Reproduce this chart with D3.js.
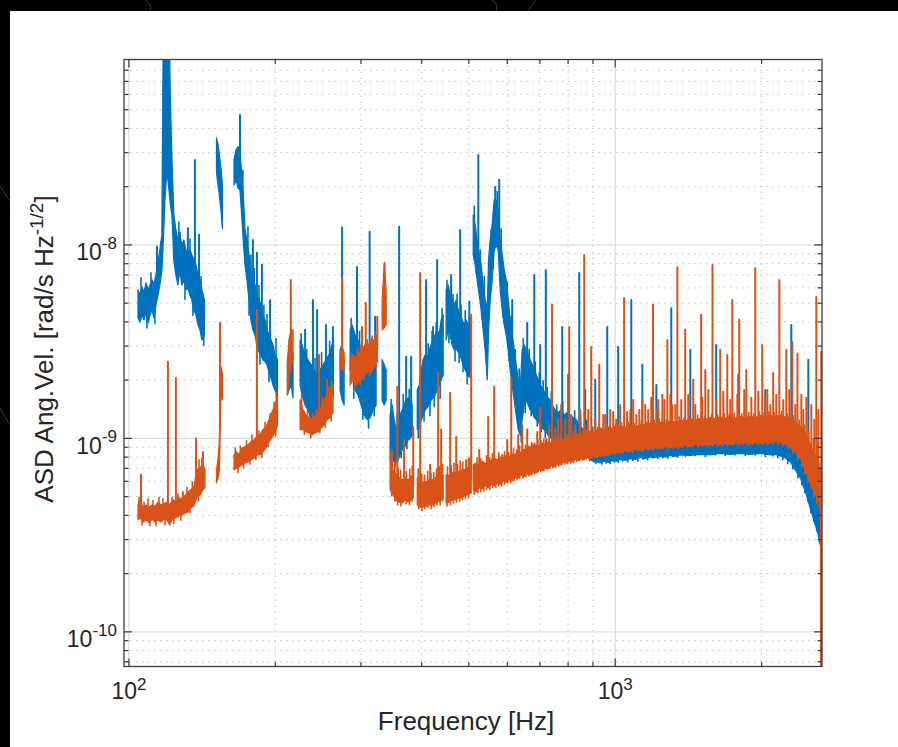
<!DOCTYPE html>
<html>
<head>
<meta charset="utf-8">
<script src="https://cdn.jsdelivr.net/npm/d3@7"></script>
<style>
  html, body { margin: 0; padding: 0; background: #000; }
  svg { display: block; }
</style>
</head>
<body>
<svg id="chart" width="898" height="747"></svg>
<script>
// Angular-velocity ASD of two channels, 100 Hz – 2.7 kHz.
// Band rows: [frequency (Hz), lower envelope, upper envelope], values in nrad/s/√Hz.
// null marks a gap between measurement segments.
const UNIT = 1e-9;

const xTickExp = [2, 3];
const yTickExp = [-10, -9, -8];
const xLimits = [97.7, 2662];
const yLimits = [6.62e-11, 9.09e-8];

const blueBand = [
  [104.4,4.20,5.85],[105.4,3.99,5.51],[106.4,4.35,6.06],[107.4,4.10,5.65],[108.4,4.50,6.37],[109.5,3.95,5.85],
  [110.5,4.35,6.21],[111.6,4.61,6.59],[112.6,4.20,6.28],[113.7,4.90,7.00],[114.7,5.51,8.15],[115.8,6.21,9.42],
  [116.9,7.43,11.26],[117.7,10.6,150],[118.6,17.1,150],[119.7,24.4,150],[120.9,19.2,150],[121.7,16.1,56.1],
  [122.6,14.3,27.5],[123.7,8.36,14.3],[124.9,7.0,11.95],[126.1,6.21,10.6],[127.3,7.43,11.26],[128.5,6.21,10.0],
  [129.7,6.59,10.6],[131.0,5.85,9.42],[132.2,6.0,8.88],[133.5,5.51,9.42],[134.7,5.20,8.88],[136.0,4.61,8.36],
  [137.4,4.35,7.88],[138.7,3.86,7.0],[140.0,3.64,6.59],[141.3,3.23,5.85],[143.0,3.43,5.20],
  null,
  [151.4,23.7,35.7],[152.5,20.4,32.9],[153.5,18.1,29.2],[154.6,15.2,24.9],[155.7,12.2,20.4],
  null,
  [164.5,20.4,27.5],[166.1,21.7,31.0],[167.6,19.7,32.2],[169.2,19.2,31.0],[170.8,13.5,21.7],[172.1,10.0,17.1],
  [173.3,7.88,11.95],[174.9,6.59,10.6],[176.6,5.20,8.88],[178.2,4.10,7.43],[179.9,3.64,6.59],[181.7,3.43,6.21],
  [183.3,3.04,5.51],[185.1,2.80,5.20],[186.9,2.70,4.90],[188.6,2.55,4.35],[190.5,2.49,4.10],[192.3,2.40,3.64],
  [194.1,2.21,3.43],[196.0,2.05,3.23],[197.8,1.89,3.04],[199.7,1.78,2.70],[202.1,1.64,2.55],
  null,
  [211.8,1.68,2.55],[213.3,1.78,2.87],[215.7,1.89,3.04],[217.5,1.62,2.70],
  null,
  [224.9,1.89,3.23],[227.0,1.68,3.04],[230.3,1.49,2.70],[233.5,1.40,2.55],[237.0,1.28,2.40],[240.3,1.25,2.26],
  [243.8,1.20,2.13],[247.2,1.25,2.26],[250.8,1.32,2.40],[254.2,1.40,2.55],[257.9,1.49,2.70],[261.6,1.58,3.04],
  [263.4,1.68,3.23],
  null,
  [271.8,1.78,2.87],[274.4,1.58,3.04],[277.0,1.49,2.55],
  null,
  [285.0,2.26,3.64],[287.6,2.13,3.86],[291.8,1.78,3.43],[296.0,1.68,3.23],[300.2,1.49,2.87],[304.6,1.32,2.55],
  [309.0,1.25,2.40],[313.3,1.28,2.55],[317.8,1.40,2.87],[322.3,1.49,2.92],
  null,
  [331.7,1.58,2.55],[334.9,1.49,2.40],[338.0,1.58,2.26],
  null,
  [344.4,0.774,1.32],[347.7,0.822,1.49],[351.0,0.757,1.25],[354.4,0.746,1.11],[357.8,0.774,1.17],[361.2,0.822,1.32],
  [364.6,0.872,1.40],[368.0,0.893,1.49],[371.6,0.926,1.58],[375.1,0.982,1.62],[378.7,1.0,1.54],[382.4,1.04,1.49],
  null,
  [391.7,1.11,1.78],[395.5,1.13,1.89],[399.3,1.25,2.26],[402.7,1.32,2.55],[406.6,1.40,2.70],[410.5,1.44,2.55],
  [414.2,1.49,2.87],[418.2,1.58,3.04],[422.1,1.62,3.23],[426.3,1.68,3.43],[430.3,1.78,3.64],[434.5,1.89,3.43],
  [438.6,2.01,4.10],[442.8,2.13,4.35],
  null,
  [449.1,3.23,5.85],[453.4,3.64,6.21],[457.7,3.43,5.51],[462.0,3.04,5.20],[466.5,2.87,4.90],[471.0,2.92,5.20],
  [475.4,2.80,4.61],[479.9,2.70,4.35],[484.5,2.49,4.10],[489.1,2.32,3.86],[493.7,2.21,4.10],[498.5,2.10,3.86],
  [505.6,2.05,3.64],
  null,
  [510.6,8.88,14.3],[515.3,7.88,12.7],[520.1,6.59,10.6],[525.2,5.51,8.88],[530.0,4.61,7.88],[535.1,3.64,6.21],
  [540.3,2.87,5.20],[545.6,2.01,4.61],[549.0,3.64,8.36],[553.2,5.20,10.6],[558.4,6.59,12.7],[563.8,9.42,17.1],
  [569.2,10.0,17.1],[574.7,9.42,15.2],[580.1,5.85,10.6],[585.6,4.61,8.88],[591.2,3.86,7.43],[596.8,3.43,6.59],
  [602.6,2.87,5.20],[608.2,2.26,4.10],[614.0,1.89,3.43],[619.9,1.58,2.87],[625.8,1.32,2.40],[631.7,1.11,2.01],
  [637.7,1.04,1.78],[643.8,1.25,2.87],[650.0,1.49,3.04],[656.2,1.58,2.87],[662.4,1.49,2.70],[668.6,1.40,2.55],
  [675.0,1.37,2.40],[681.6,1.28,2.26],[688.0,1.25,2.13],[694.6,1.22,2.01],[701.1,1.17,1.89],[707.8,1.13,1.82],
  [714.6,1.11,1.74],[721.4,1.08,1.68],[728.2,1.04,1.62],[735.1,1.02,1.58],[742.0,0.982,1.49],[752.7,0.982,1.40],
  [763.4,0.959,1.36],[774.2,0.982,1.40],[785.3,0.926,1.32],[796.5,0.959,1.36],[808.1,0.926,1.32],[819.5,0.893,1.28],
  [831.3,0.893,1.25],[843.3,0.872,1.17],[855.4,0.851,1.13],[867.6,0.822,1.08],[880.1,0.792,1.0],[892.6,0.774,0.959],
  [905.4,0.757,0.926],[918.4,0.757,0.903],[931.5,0.746,0.903],[949.4,0.762,0.898],[967.5,0.752,0.914],[986.0,0.770,0.909],
  [1005,0.762,0.926],[1024,0.778,0.920],[1048,0.770,0.931],[1074,0.787,0.926],[1100,0.778,0.943],[1126,0.797,0.937],
  [1153,0.787,0.953],[1180,0.803,0.943],[1209,0.797,0.959],[1238,0.808,0.953],[1268,0.803,0.964],[1298,0.817,0.959],
  [1329,0.808,0.970],[1361,0.822,0.964],[1427,0.817,0.982],[1496,0.827,0.976],[1569,0.822,0.988],[1644,0.836,0.982],
  [1724,0.827,0.994],[1808,0.836,0.988],[1896,0.827,1.0],[1988,0.836,0.994],[2084,0.822,1.01],[2134,0.827,1.0],
  [2185,0.812,1.0],[2238,0.792,0.982],[2291,0.757,0.959],[2346,0.687,0.893],[2403,0.625,0.822],[2437,0.568,0.757],
  [2472,0.511,0.687],[2507,0.453,0.625],[2543,0.402,0.562],[2579,0.357,0.511],[2616,0.317,0.470],[2641,0.282,0.437],
  [2662,0.25,0.40]
];

// narrow lines rising (or dropping) out of the blue band: [frequency (Hz), extreme]
const blueSpikes = [
  [114.2,9.8],[127.3,11.6],[132.2,12.2],[136.7,27.5],[139.4,11.3],
  [169.2,47.0],[179.9,10.6],[183.3,9.1],[187.7,7.9],[195.1,5.2],
  [230.3,3.64],[239.0,5.2],[243.8,4.61],[254.2,3.86],[262.7,3.77],
  [274.4,12.3],[294.5,7.7],[312.6,11.7],[320.8,4.25],
  [349.4,1.25],[359.5,12.4],[371.6,2.64],[380.5,2.64],
  [408.4,6.59],[422.1,3.77],[430.3,8.36],
  [459.8,7.0],[479.9,11.95],[501.1,5.08],
  [523.0,29.2],[566.5,19.9],[577.4,21.7],[614.0,5.2],[659.3,3.95],[681.6,7.0],[701.1,3.04],[720.0,7.43],
  [778.0,3.77],[800.5,2.13],[843.3,7.17],[867.6,1.78],[909.7,2.01],[963.0,3.77],[1014,2.97],[1079,5.2],
  [1137,2.40],[1215,1.89],[1304,4.70],[1427,2.87],[1613,3.04],[1791,2.13],[2035,1.78],[2302,3.86],[2495,2.55],
  [2652,0.081]
];

// short excursions along the blue band edges
const blueFringe = [
  [105.9,6.8],[108.9,3.7],[111.0,7.2],[113.1,3.9],[116.4,10.5],[126.7,13.2],[130.4,5.2],[133.5,10.8],
  [135.4,4.3],[140.7,6.9],[142.5,3.0],
  [171.5,24.5],[175.7,12.5],[176.6,4.3],[178.2,8.9],[181.0,7.6],[185.1,6.2],[186.0,2.4],[189.5,4.9],
  [192.3,4.4],[194.1,1.95],[197.0,2.75],[200.7,3.3],
  [226.0,3.5],[232.0,2.9],[235.8,1.15],[241.4,2.6],[246.5,1.12],[249.0,2.8],[252.5,1.2],[258.7,3.2],[260.0,1.35],
  [286.5,4.2],[290.0,1.6],[298.0,3.6],[302.7,1.25],[306.5,3.0],[311.0,1.12],[316.0,3.3],[319.5,1.3],
  [346.0,1.6],[352.5,0.70],[356.0,1.35],[363.0,0.79],[366.5,1.7],[373.0,0.88],[377.0,1.8],
  [393.5,1.0],[397.5,2.1],[404.5,1.22],[412.5,3.1],[416.0,1.3],[420.0,3.6],[424.5,1.45],[428.5,4.0],
  [436.5,1.6],[440.5,4.7],
  [451.0,6.6],[455.0,3.1],[464.0,5.6],[468.5,2.5],[473.0,5.6],[477.5,2.45],[482.0,4.9],[486.5,2.2],
  [491.5,4.6],[496.0,1.9],[503.0,4.2],
  [513.0,16.0],[518.0,7.1],[528.0,9.5],[533.0,4.1],[538.0,6.9],[543.0,2.5],[555.8,12.0],[561.0,7.5],
  [571.9,19.0],[583.0,12.2],[588.4,4.2],[599.6,6.5],[605.3,2.5],[611.1,4.3],[617.0,1.75],[622.8,2.9],
  [628.7,1.25],[634.7,2.3],[640.8,0.95],[647.0,3.3],[653.1,1.35],[665.5,2.9],[671.8,1.3],[685.0,2.5],
  [691.3,1.15],[698.0,2.2],[704.4,1.08],[711.0,2.0],[717.9,1.0],[724.8,1.85],[738.6,1.75],[745.5,0.95],
  [758.0,1.5],[769.0,0.92],[780.0,1.55],[791.0,0.89],[802.0,1.5],[813.8,0.86],[825.4,1.4],[837.3,0.85],
  [849.3,1.3],[861.5,0.80],[873.8,1.25],[886.3,0.76],[898.9,1.15],[911.8,0.735],[924.8,1.05],
  [940,0.73],[958,0.74],[976,0.735],[995,0.75],[1015,0.745],[1036,0.76],[1061,0.75],[1087,0.765],
  [1113,0.758],[1140,0.775],[1166,0.77],[1195,0.785],[1223,0.78],[1253,0.79],[1283,0.785],[1314,0.80],
  [1345,0.795],[1394,0.80],[1461,0.81],[1532,0.80],[1606,0.815],[1684,0.81],[1766,0.815],[1851,0.81],
  [1941,0.815],[2035,0.80],[2109,0.805],[2160,0.79],[2211,0.77],[2264,0.735],[2318,0.69],[2375,0.62],
  [2420,0.57],[2454,0.52],[2490,0.47],[2525,0.41],[2561,0.37],[2597,0.33],[2628,0.29]
];

const orangeBand = [
  [104.4,0.379,0.453],[105.4,0.388,0.481],[106.9,0.370,0.440],[108.4,0.379,0.453],[110.0,0.366,0.440],[111.6,0.383,0.453],
  [113.1,0.370,0.447],[114.7,0.379,0.467],[116.4,0.370,0.453],[118.0,0.383,0.460],[119.7,0.379,0.467],[121.4,0.357,0.453],
  [123.1,0.388,0.481],[124.9,0.388,0.472],[126.7,0.397,0.493],[128.5,0.402,0.487],[130.4,0.412,0.505],[132.2,0.416,0.529],
  [134.1,0.437,0.542],[136.0,0.447,0.560],[138.0,0.499,0.687],[140.0,0.511,0.705],[142.0,0.542,0.730],[143.3,0.555,0.687],
  null,
  [151.4,0.589,0.687],[152.5,0.625,0.785],[153.5,0.687,0.982],[154.6,1.78,2.35],[155.7,1.58,2.13],
  null,
  [164.5,0.687,0.822],[166.5,0.703,0.851],[168.4,0.713,0.822],[170.9,0.730,0.893],[173.3,0.746,0.903],[175.7,0.757,0.926],
  [178.2,0.774,0.959],[180.8,0.792,0.982],[183.3,0.822,1.02],[186.0,0.822,1.04],[188.6,0.851,1.11],[191.4,0.893,1.15],
  [194.1,0.959,1.25],[196.9,1.01,1.37],[199.7,1.08,1.49],[202.1,1.17,1.62],
  null,
  [211.8,1.68,2.40],[213.3,2.01,3.23],[215.7,2.40,3.64],[217.5,2.55,3.64],
  null,
  [224.9,1.11,1.58],[228.1,1.11,1.40],[231.4,1.08,1.32],[234.7,1.07,1.28],[238.1,1.04,1.25],[241.4,1.07,1.29],
  [244.9,1.08,1.37],[248.4,1.13,1.44],[251.9,1.17,1.58],[255.5,1.25,1.68],[259.2,1.28,1.78],[262.8,1.37,1.89],
  null,
  [271.8,2.26,2.70],[274.4,2.32,2.95],[277.0,2.21,2.78],
  null,
  [285.0,1.89,2.55],[289.0,2.01,2.70],[293.1,1.89,2.61],[297.4,1.96,2.80],[301.5,2.05,2.87],[306.0,2.13,3.04],
  [310.4,2.21,3.04],[314.8,2.21,3.16],[319.3,2.32,3.23],[324.2,2.49,3.43],
  null,
  [331.7,3.64,5.20],[334.9,3.72,7.88],[338.0,3.86,5.85],
  null,
  [344.4,0.542,0.774],[349.4,0.511,0.687],[354.4,0.481,0.648],[359.5,0.469,0.625],[364.6,0.463,0.610],[369.8,0.481,0.625],
  [375.1,0.469,0.610],[380.5,0.481,0.636],[384.3,0.492,0.648],
  null,
  [391.7,0.453,0.625],[397.1,0.442,0.598],[402.7,0.442,0.592],[408.4,0.447,0.598],[414.2,0.453,0.610],[420.1,0.453,0.610],
  [426.3,0.463,0.625],[432.4,0.469,0.648],[438.6,0.481,0.642],[442.8,0.492,0.648],
  null,
  [449.1,0.463,0.648],[455.5,0.469,0.642],[462.0,0.481,0.664],[468.7,0.481,0.670],[475.4,0.492,0.670],[482.2,0.492,0.687],
  [489.1,0.505,0.687],[496.1,0.511,0.705],[505.6,0.522,0.713],
  null,
  [510.6,0.542,0.730],[517.7,0.530,0.746],[525.2,0.556,0.730],[532.6,0.548,0.765],[540.3,0.568,0.738],[548.0,0.556,0.765],
  [555.8,0.581,0.774],[563.8,0.568,0.792],[571.9,0.589,0.774],[580.1,0.581,0.803],[588.4,0.604,0.792],[596.8,0.592,0.812],
  [605.3,0.617,0.803],[614.0,0.604,0.831],[622.8,0.630,0.822],[631.7,0.625,0.862],[640.8,0.648,0.841],[650.0,0.636,0.882],
  [659.3,0.656,0.862],[668.6,0.648,0.903],[678.2,0.670,0.893],[688.0,0.664,0.926],[697.8,0.692,0.914],[707.8,0.681,0.948],
  [717.9,0.705,0.926],[728.2,0.697,0.959],[738.6,0.725,0.948],[749.1,0.713,0.970],[759.8,0.738,0.970],[770.7,0.730,0.994],
  [781.7,0.752,0.982],[792.9,0.746,1.01],[804.3,0.765,0.994],[815.8,0.757,1.03],[827.5,0.778,1.01],[839.3,0.770,1.05],
  [851.3,0.787,1.03],[863.5,0.778,1.06],[875.8,0.797,1.05],[888.4,0.787,1.09],[901.1,0.808,1.07],[914.0,0.803,1.10],
  [927.1,0.817,1.09],[940.4,0.812,1.12],[953.9,0.827,1.10],[967.5,0.822,1.14],[981.3,0.846,1.12],[995.3,0.836,1.15],
  [1009,0.856,1.13],[1024,0.846,1.16],[1048,0.867,1.14],[1074,0.856,1.17],[1100,0.877,1.15],[1126,0.867,1.18],
  [1153,0.887,1.17],[1180,0.877,1.20],[1209,0.898,1.18],[1238,0.887,1.21],[1268,0.908,1.20],[1298,0.898,1.23],
  [1329,0.908,1.21],[1361,0.903,1.24],[1393,0.920,1.23],[1427,0.909,1.26],[1461,0.931,1.24],[1496,0.920,1.27],
  [1532,0.931,1.25],[1569,0.926,1.28],[1606,0.943,1.26],[1644,0.931,1.29],[1684,0.943,1.27],[1724,0.931,1.29],
  [1766,0.948,1.27],[1808,0.937,1.30],[1851,0.948,1.28],[1896,0.937,1.30],[1941,0.953,1.28],[1988,0.943,1.31],
  [2035,0.953,1.29],[2084,0.948,1.31],[2134,0.964,1.30],[2185,0.953,1.32],[2238,0.937,1.29],[2291,0.903,1.28],
  [2346,0.851,1.22],[2403,0.792,1.16],[2437,0.738,1.11],[2472,0.671,1.04],[2507,0.610,0.959],[2543,0.562,0.872],
  [2579,0.511,0.822],[2616,0.481,0.774],[2641,0.453,0.687],[2662,0.40,0.60]
];

// narrow lines rising (or dropping) out of the orange band: [frequency (Hz), extreme]
const orangeSpikes = [
  [105.9,0.648],[120.3,2.49],[124.9,2.05],[129.1,0.529],[137.4,1.0],[142.0,0.85],
  [153.9,3.95],[183.3,4.61],[215.2,6.59],[246.0,2.70],[255.5,2.01],[274.4,6.75],
  [301.5,3.77],[306.9,5.02],[324.2,4.25],[335.6,8.1],
  [347.7,0.87],[356.4,1.85],[368.0,0.98],[384.3,1.15],
  [397.1,7.17],[416.3,0.73],[432.4,2.18],[438.6,1.11],
  [457.7,1.72],[471.0,1.02],[493.7,0.77],[505.6,4.35],
  [525.2,0.87],[548.0,1.29],[563.8,1.85],[585.6,0.82],[599.6,0.98],[611.1,2.05],[631.7,1.04],[643.8,1.17],
  [659.3,1.11],[678.2,0.93],[691.3,1.08],[701.1,1.45],[720.0,0.98],[731.6,1.17],[741.5,4.90],[752.7,1.11],
  [763.4,1.25],[774.2,1.49],[789.2,1.25],[804.3,3.77],[812.0,1.32],[827.5,1.17],[847.3,1.40],[863.5,8.88],
  [880.1,1.40],[892.6,2.97],[909.7,1.25],[927.1,2.40],[945.0,1.32],[953.9,1.32],[976.7,1.40],[990.6,1.37],
  [1005,1.25],[1024,1.49],[1043,5.32],[1058,1.37],[1074,1.40],[1089,1.58],[1105,1.32],[1121,1.40],
  [1137,1.58],[1153,1.49],[1169,1.40],[1186,1.62],[1196,4.90],[1220,1.40],[1226,1.58],[1250,1.68],
  [1262,1.58],[1280,3.23],[1298,1.68],[1310,1.49],[1329,1.49],[1342,7.67],[1367,1.58],[1393,3.64],
  [1413,1.68],[1447,2.01],[1461,1.49],[1502,4.35],[1510,1.62],[1532,2.26],[1554,1.78],[1585,7.88],
  [1614,1.58],[1644,2.87],[1668,1.74],[1700,2.70],[1724,1.58],[1741,5.20],[1783,1.68],[1799,4.10],
  [1842,1.78],[1860,2.26],[1905,1.62],[1941,7.6],[1969,1.74],[2006,3.04],[2035,1.62],[2055,1.78],
  [2084,1.49],[2113,2.18],[2144,1.68],[2175,6.59],[2216,1.58],[2248,2.87],[2280,1.78],[2313,3.15],
  [2346,1.49],[2370,2.75],[2414,1.68],[2437,1.40],[2472,1.62],[2531,1.49],[2567,1.25],[2591,5.38],
  [2616,1.40],[2653,2.80],[2648,0.05]
];

// short excursions along the orange band edges
const orangeFringe = [
  [104.9,0.50],[107.4,0.47],[109.5,0.49],[112.1,0.48],[115.3,0.50],[117.5,0.49],[122.6,0.50],[126.1,0.52],
  [131.6,0.56],[135.0,0.60],[139.4,0.78],[141.3,0.80],
  [106.4,0.355],[110.5,0.352],[113.7,0.35],[118.6,0.355],[123.7,0.36],[127.9,0.375],[133.5,0.41],[139.0,0.47],
  [165.5,0.90],[169.5,0.92],[174.5,0.98],[179.0,1.05],[185.1,1.10],[190.5,1.22],[195.1,1.35],[198.8,1.55],
  [201.0,1.75],[167.6,0.66],[172.1,0.70],[177.4,0.73],[182.4,0.77],[187.7,0.79],[193.2,0.90],[200.3,1.02],
  [226.5,1.72],[233.0,1.40],[239.0,1.36],[243.0,1.42],[250.0,1.65],[258.0,1.85],[261.0,2.0],
  [229.5,1.04],[236.5,1.0],[247.0,1.06],[253.5,1.13],[260.5,1.22],
  [287.0,2.75],[295.0,2.95],[299.5,3.05],[309.0,3.25],[316.5,3.4],[321.5,3.6],
  [291.0,1.80],[299.0,1.88],[304.0,2.0],[312.5,2.1],[322.0,2.35],
  [346.0,0.85],[352.0,0.76],[358.0,0.70],[362.0,0.69],[372.0,0.68],[378.0,0.70],[382.5,0.72],
  [347.0,0.50],[352.5,0.47],[357.0,0.45],[362.5,0.445],[371.5,0.455],[377.5,0.45],[382.0,0.47],
  [393.5,0.70],[400.0,0.66],[405.5,0.65],[411.5,0.68],[418.0,0.66],[423.5,0.67],[429.0,0.70],[435.5,0.72],
  [441.0,0.74],[394.5,0.43],[400.5,0.42],[406.0,0.43],[412.0,0.435],[418.5,0.43],[424.0,0.44],[430.0,0.45],
  [436.5,0.45],[441.5,0.47],
  [452.0,0.72],[460.0,0.73],[466.0,0.75],[474.0,0.74],[480.0,0.77],[486.0,0.76],[499.0,0.79],[502.5,0.80],
  [451.0,0.445],[458.5,0.45],[465.0,0.46],[472.0,0.465],[479.0,0.47],[485.5,0.48],[492.0,0.485],[499.5,0.49],
  [520,0.80],[529,0.79],[544,0.82],[552,0.80],[559,0.84],[576,0.85],[592,0.86],[603,0.85],[618,0.89],
  [627,0.88],[636,0.92],[654,0.93],[664,0.92],[673,0.96],[683,0.95],[693,0.99],[703,0.98],[713,1.0],
  [723,1.0],[744,1.03],[755,1.02],[765,1.05],[787,1.06],[798,1.05],[821,1.09],[833,1.07],[857,1.10],
  [870,1.12],[895,1.14],[920,1.15],[934,1.14],[961,1.18],[974,1.17],[1002,1.19],
  [1015,1.19],[1031,1.21],[1066,1.22],[1095,1.20],[1132,1.24],[1160,1.22],[1203,1.25],[1232,1.27],
  [1274,1.26],[1304,1.29],[1354,1.30],[1385,1.28],[1419,1.31],[1478,1.33],[1525,1.31],[1578,1.34],
  [1625,1.33],[1676,1.35],[1716,1.34],[1757,1.36],[1821,1.35],[1882,1.37],[1927,1.35],[1980,1.38],
  [2024,1.36],[2070,1.38],[2124,1.37],[2200,1.39],[2258,1.35],[2325,1.32],[2390,1.25],[2450,1.18],
  [2500,1.10],[2555,1.0],[2600,0.93],
  [513,0.51],[522,0.52],[529,0.525],[537,0.53],[544,0.54],[552,0.54],[560,0.555],[568,0.555],[576,0.565],
  [584,0.565],[592,0.575],[601,0.585],[610,0.585],[619,0.60],[628,0.605],[636,0.615],[646,0.62],[655,0.63],
  [664,0.635],[673,0.645],[683,0.65],[693,0.665],[703,0.67],[713,0.675],[723,0.69],[733,0.695],[744,0.70],
  [754,0.705],[765,0.715],[776,0.725],[787,0.73],[798,0.735],[810,0.74],[821,0.745],[833,0.755],[845,0.76],
  [857,0.765],[870,0.775],[882,0.78],[895,0.785],[907,0.79],[920,0.795],[934,0.80],[947,0.805],[961,0.81],
  [974,0.81],[988,0.82],[1002,0.825],[1017,0.835],[1036,0.83],[1061,0.845],[1087,0.84],[1113,0.855],
  [1140,0.85],[1166,0.865],[1195,0.86],[1223,0.87],[1253,0.875],[1283,0.88],[1314,0.885],[1345,0.88],
  [1377,0.89],[1410,0.89],[1444,0.90],[1478,0.895],[1514,0.905],[1550,0.90],[1588,0.91],[1625,0.905],
  [1664,0.915],[1704,0.91],[1745,0.92],[1787,0.915],[1830,0.92],[1874,0.915],[1918,0.925],[1964,0.92],
  [2012,0.925],[2060,0.92],[2109,0.93],[2160,0.925],[2211,0.91],[2264,0.88],[2318,0.83],[2375,0.77],
  [2420,0.71],[2454,0.65],[2490,0.59],[2525,0.55],[2561,0.49],[2597,0.46],[2628,0.43]
];

const W = 898, H = 747;
const plot = { left: 124, right: 822, top: 59.5, bottom: 666.5 };
const FONT = '"Liberation Sans", Arial, Helvetica, sans-serif';
const INK = '#262626';
const BLUE = '#0072BD';
const ORANGE = '#D95319';

const svg = d3.select('#chart');

const x = d3.scaleLog().domain(xLimits).range([plot.left, plot.right]);
const y = d3.scaleLog().domain(yLimits).range([plot.bottom, plot.top]);

// dark slide backdrop with the white figure panel on top
svg.append('rect').attr('width', W).attr('height', H).attr('fill', '#000');
const deco = svg.append('g').attr('fill', 'none').attr('stroke', '#3a3a3a').attr('stroke-width', 1);
deco.append('path').attr('d', 'M146,0 Q153,6 150,11');
deco.append('path').attr('d', 'M492,0 Q499,5 496,11');
deco.append('path').attr('d', 'M536,0 L528,11');
deco.append('path').attr('d', 'M0,186 L9,200');
deco.append('path').attr('d', 'M0,408 L9,424');
svg.append('rect').attr('x', 10).attr('y', 11).attr('width', W - 10).attr('height', H - 11).attr('fill', '#fff');

// tick positions
const xMajor = xTickExp.map(e => 10 ** e);
const yMajor = yTickExp.map(e => 10 ** e);
const xMinor = [];
for (let e = 1; e <= 3; e++) for (let m = 2; m <= 9; m++) {
  const v = m * 10 ** e;
  if (v > xLimits[0] && v < xLimits[1]) xMinor.push(v);
}
const yMinor = [];
for (let e = -11; e <= -8; e++) for (let m = 2; m <= 9; m++) {
  const v = m * 10 ** e;
  if (v > yLimits[0] && y(v) > plot.top + 1) yMinor.push(v);
}

// grid: dotted minor, solid major
const grid = svg.append('g');
grid.selectAll('.gxm').data(xMinor).join('line')
  .attr('x1', d => x(d)).attr('x2', d => x(d)).attr('y1', plot.top).attr('y2', plot.bottom)
  .attr('stroke', '#c2c2c2').attr('stroke-width', 1).attr('stroke-dasharray', '1.5,4.5');
grid.selectAll('.gym').data(yMinor).join('line')
  .attr('y1', d => y(d)).attr('y2', d => y(d)).attr('x1', plot.left).attr('x2', plot.right)
  .attr('stroke', '#c2c2c2').attr('stroke-width', 1).attr('stroke-dasharray', '1.5,4.5');
grid.selectAll('.gxM').data(xMajor).join('line')
  .attr('x1', d => x(d)).attr('x2', d => x(d)).attr('y1', plot.top).attr('y2', plot.bottom)
  .attr('stroke', '#dedede').attr('stroke-width', 1.3);
grid.selectAll('.gyM').data(yMajor).join('line')
  .attr('y1', d => y(d)).attr('y2', d => y(d)).attr('x1', plot.left).attr('x2', plot.right)
  .attr('stroke', '#dedede').attr('stroke-width', 1.3);

// data, clipped to the axes box
svg.append('clipPath').attr('id', 'plotClip').append('rect')
  .attr('x', plot.left).attr('y', plot.top)
  .attr('width', plot.right - plot.left).attr('height', plot.bottom - plot.top);
const dataLayer = svg.append('g').attr('clip-path', 'url(#plotClip)');

const band = d3.area()
  .defined(d => d !== null)
  .x(d => x(d[0]))
  .y0(d => y(d[1] * UNIT))
  .y1(d => y(d[2] * UNIT));

function segmentsOf(rows) {
  const segs = [];
  let cur = [];
  rows.forEach(r => {
    if (r === null) { if (cur.length) segs.push(cur); cur = []; }
    else cur.push(r);
  });
  if (cur.length) segs.push(cur);
  return segs;
}

// band centre (geometric) at a frequency, used as the foot of each spike
function bandCentre(segs, f) {
  const mid = r => Math.sqrt(r[1] * r[2]);
  for (const s of segs) {
    if (f >= s[0][0] && f <= s[s.length - 1][0]) {
      for (let i = 0; i < s.length - 1; i++) {
        const a = s[i], b = s[i + 1];
        if (f >= a[0] && f <= b[0]) {
          const t = (Math.log(f) - Math.log(a[0])) / (Math.log(b[0]) - Math.log(a[0]) || 1);
          return Math.exp(Math.log(mid(a)) * (1 - t) + Math.log(mid(b)) * t);
        }
      }
      return mid(s[s.length - 1]);
    }
  }
  let best = null, dist = Infinity;
  segs.forEach(s => s.forEach(r => {
    const dd = Math.abs(Math.log(r[0]) - Math.log(f));
    if (dd < dist) { dist = dd; best = r; }
  }));
  return mid(best);
}

const spikeLine = d3.line().x(d => x(d[0])).y(d => y(d[1] * UNIT));

function drawSeries(rows, spikes, fringe, colour) {
  const g = dataLayer.append('g');
  const segs = segmentsOf(rows);
  g.append('path').datum(rows).attr('d', band)
    .attr('fill', colour).attr('stroke', colour)
    .attr('stroke-width', 1.3).attr('stroke-linejoin', 'round');
  g.selectAll('path.fringe').data(fringe).join('path')
    .attr('class', 'fringe')
    .attr('d', d => spikeLine([[d[0], bandCentre(segs, d[0])], [d[0], d[1]]]))
    .attr('fill', 'none').attr('stroke', colour).attr('stroke-width', 1.6);
  g.selectAll('path.spike').data(spikes).join('path')
    .attr('class', 'spike')
    .attr('d', d => spikeLine([[d[0], bandCentre(segs, d[0])], [d[0], d[1]]]))
    .attr('fill', 'none').attr('stroke', colour).attr('stroke-width', 2)
    .attr('stroke-linecap', 'round');
}

drawSeries(blueBand, blueSpikes, blueFringe, BLUE);
drawSeries(orangeBand, orangeSpikes, orangeFringe, ORANGE);

// axes box with inward ticks on all four sides
const axes = svg.append('g').attr('stroke', '#3c3c3c');
[{ vals: xMajor, len: 8 }, { vals: xMinor, len: 4.5 }].forEach(ts => {
  axes.selectAll(null).data(ts.vals).join('line')
    .attr('x1', d => x(d)).attr('x2', d => x(d))
    .attr('y1', plot.bottom).attr('y2', plot.bottom - ts.len).attr('stroke-width', 1.2);
  axes.selectAll(null).data(ts.vals).join('line')
    .attr('x1', d => x(d)).attr('x2', d => x(d))
    .attr('y1', plot.top).attr('y2', plot.top + ts.len).attr('stroke-width', 1.2);
});
[{ vals: yMajor, len: 8 }, { vals: yMinor, len: 4.5 }].forEach(ts => {
  axes.selectAll(null).data(ts.vals).join('line')
    .attr('y1', d => y(d)).attr('y2', d => y(d))
    .attr('x1', plot.left).attr('x2', plot.left + ts.len).attr('stroke-width', 1.2);
  axes.selectAll(null).data(ts.vals).join('line')
    .attr('y1', d => y(d)).attr('y2', d => y(d))
    .attr('x1', plot.right).attr('x2', plot.right - ts.len).attr('stroke-width', 1.2);
});
axes.append('rect')
  .attr('x', plot.left).attr('y', plot.top)
  .attr('width', plot.right - plot.left).attr('height', plot.bottom - plot.top)
  .attr('fill', 'none').attr('stroke-width', 1.3);

// tick labels as powers of ten
const labels = svg.append('g').attr('font-family', FONT).attr('fill', INK);
xTickExp.forEach(e => {
  const t = labels.append('text')
    .attr('x', x(10 ** e)).attr('y', 699)
    .attr('text-anchor', 'middle').attr('font-size', 23);
  t.append('tspan').text('10');
  t.append('tspan').attr('dy', -9).attr('font-size', 17).text(String(e));
});
yTickExp.forEach(e => {
  const t = labels.append('text')
    .attr('x', 117).attr('y', y(10 ** e) + 15.5)
    .attr('text-anchor', 'end').attr('font-size', 23);
  t.append('tspan').text('10');
  t.append('tspan').attr('dy', -11.5).attr('font-size', 17).text(String(e));
});

// axis titles
labels.append('text')
  .attr('x', 466).attr('y', 730)
  .attr('text-anchor', 'middle').attr('font-size', 26)
  .text('Frequency [Hz]');

const yTitle = labels.append('text')
  .attr('transform', 'translate(53,349) rotate(-90)')
  .attr('text-anchor', 'middle').attr('font-size', 26);
yTitle.append('tspan').text('ASD Ang.Vel. [rad/s Hz');
yTitle.append('tspan').attr('dy', -10).attr('font-size', 19).text('-1/2');
yTitle.append('tspan').attr('dy', 10).text(']');
</script>
</body>
</html>
